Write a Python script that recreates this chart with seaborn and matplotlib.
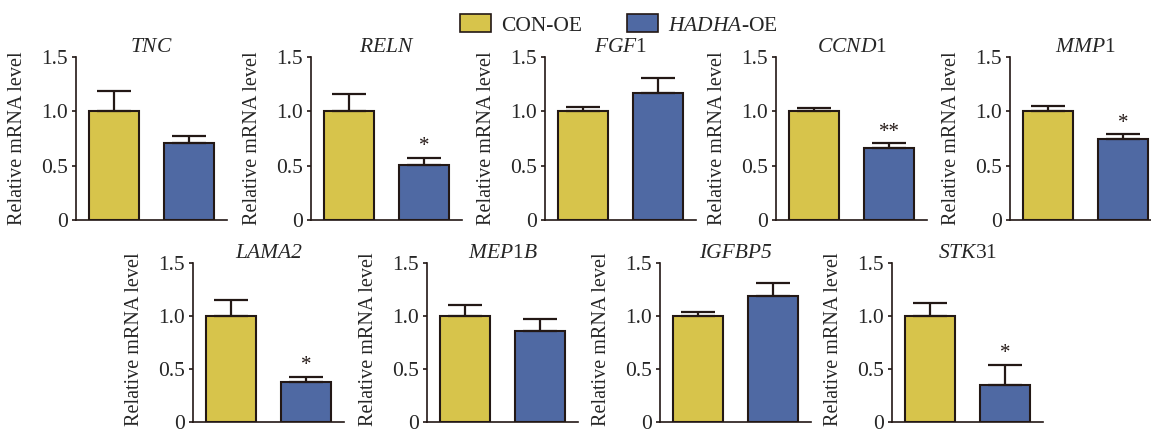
import matplotlib
matplotlib.use("Agg")
import matplotlib.pyplot as plt
import seaborn as sns
import pandas as pd
from matplotlib.patches import Patch

sns.set_style("ticks")
plt.rcParams['font.family'] = ['Liberation Serif', 'DejaVu Serif']
plt.rcParams['mathtext.fontset'] = 'custom'
plt.rcParams['mathtext.rm'] = 'Liberation Serif'
plt.rcParams['mathtext.it'] = 'Liberation Serif:italic'

# ---- data ----
genes = ["TNC", "RELN", "FGF1", "CCND1", "MMP1", "LAMA2", "MEP1B", "IGFBP5", "STK31"]
titles = [r"$\it{TNC}$", r"$\it{RELN}$", r"$\it{FGF}$1", r"$\it{CCND}$1", r"$\it{MMP}$1",
          "LAMA2", r"$\it{MEP}$1$\it{B}$", "IGFBP5", r"$\it{STK}$31"]
groups = ["CON-OE", "HADHA-OE"]
con_mean = [1.0, 1.0, 1.0, 1.0, 1.0, 1.0, 1.0, 1.0, 1.0]
con_err = [0.19, 0.16, 0.04, 0.035, 0.05, 0.155, 0.10, 0.04, 0.125]
oe_mean = [0.705, 0.51, 1.17, 0.66, 0.75, 0.375, 0.86, 1.19, 0.345]
oe_err = [0.065, 0.06, 0.14, 0.045, 0.04, 0.05, 0.11, 0.12, 0.195]
signif = ["", "*", "", "**", "*", "*", "", "", "*"]
yticks = [0, 0.5, 1.0, 1.5]
ytick_labels = ["0", "0.5", "1.0", "1.5"]

colors = {"CON-OE": "#D7C44B", "HADHA-OE": "#4F69A3"}
edge = "#231815"

W, H = 1151, 434
fig = plt.figure(figsize=(W / 100, H / 100), dpi=100)

top_lefts = [76, 311, 545, 776, 1010]
bot_lefts = [193, 427, 660, 892]
ax_w = 151
positions = [(l, 220, 163, 0.5) for l in top_lefts] + [(l, 422, 159, 0.52) for l in bot_lefts]

FS = 15.5

for i, g in enumerate(genes):
    left, ybot, ax_h, label_y = positions[i]
    ax = fig.add_axes([left / W, (H - ybot) / H, ax_w / W, ax_h / H])
    df = pd.DataFrame({"group": groups, "value": [con_mean[i], oe_mean[i]]})
    sns.barplot(data=df, x="group", y="value", hue="group", palette=colors,
                saturation=1, width=0.667, edgecolor=edge, linewidth=1.5, ax=ax,
                legend=False, errorbar=None)
    means = [con_mean[i], oe_mean[i]]
    errs = [con_err[i], oe_err[i]]
    ax.errorbar([0, 1], means, yerr=[[0, 0], errs], fmt="none", ecolor=edge,
                elinewidth=1.6, capsize=12.5, capthick=1.6, zorder=5)
    if signif[i]:
        ax.text(1, oe_mean[i] + oe_err[i] + 0.015, signif[i], ha="center", va="bottom",
                fontsize=15, color="#231815")
    ax.set_xlim(-0.5, 1.5)
    ax.set_ylim(0, 1.5)
    ax.set_yticks(yticks)
    ax.set_yticklabels(ytick_labels, fontsize=FS)
    ax.set_xticks([])
    ax.set_xlabel("")
    ax.set_ylabel("Relative mRNA level", fontsize=14.5)
    ax.yaxis.set_label_coords(-0.325, label_y)
    t = titles[i]
    ax.set_title(t, fontsize=FS, pad=-3,
                 fontstyle=("normal" if "$" in t else "italic"))
    for s in ["top", "right"]:
        ax.spines[s].set_visible(False)
    for s in ["left", "bottom"]:
        ax.spines[s].set_color(edge)
        ax.spines[s].set_linewidth(1.2)
    ax.tick_params(axis="y", length=3, width=1.2, color=edge, pad=3)
    ax.set_facecolor("white")

handles = [Patch(facecolor=colors["CON-OE"], edgecolor=edge, linewidth=1.2),
           Patch(facecolor=colors["HADHA-OE"], edgecolor=edge, linewidth=1.2)]
fig.legend(handles, ["CON-OE", r"$\it{HADHA}$-OE"], loc="upper center",
           bbox_to_anchor=(0.538, 1.012), ncol=2, frameon=False, fontsize=FS,
           handlelength=1.4, handleheight=0.9, columnspacing=2.1, handletextpad=0.5)

fig.savefig("out.png", dpi=100, facecolor="white")
